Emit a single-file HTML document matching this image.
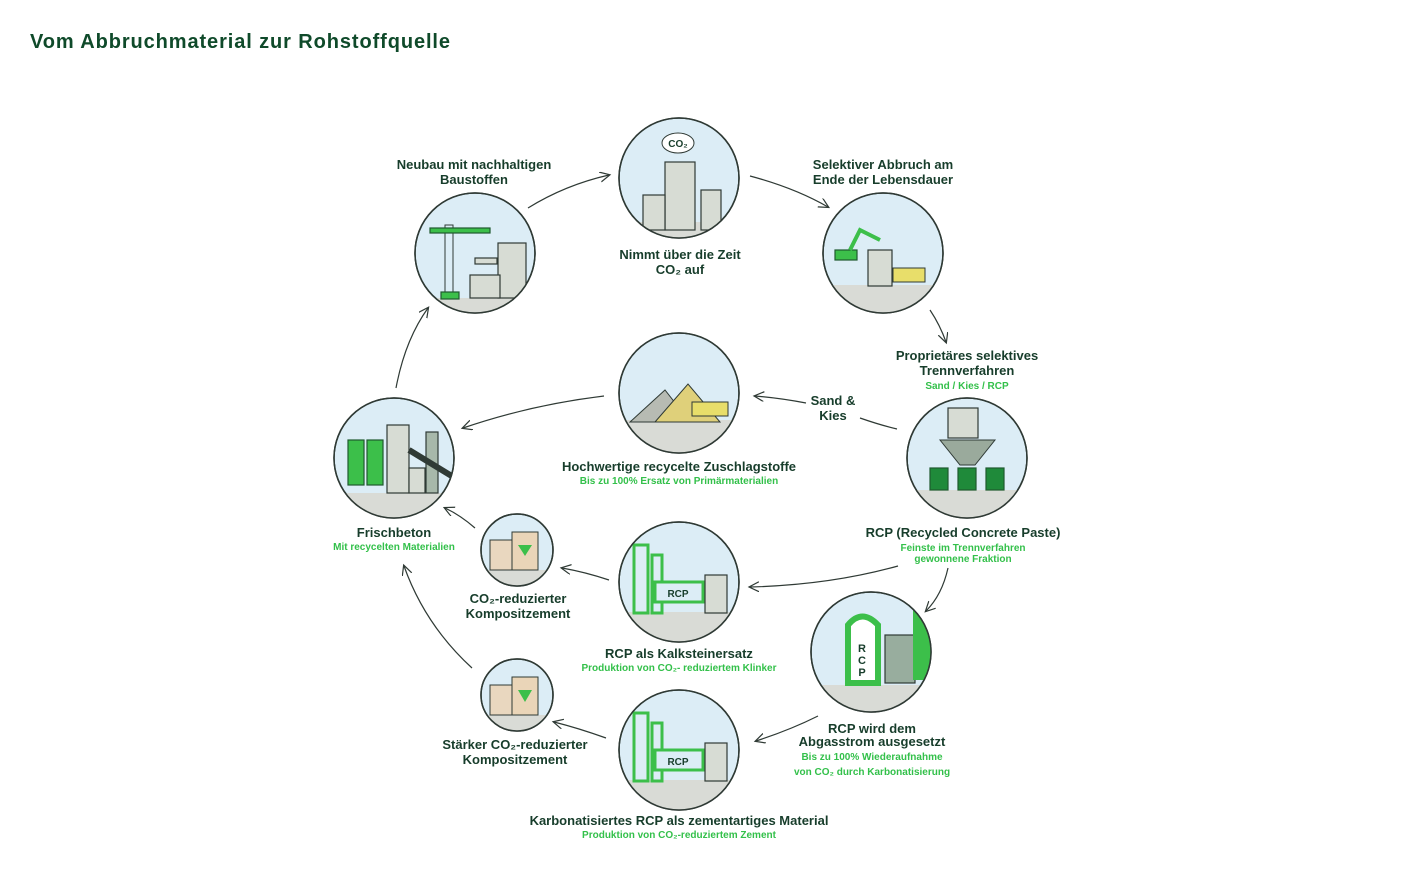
<!DOCTYPE html>
<html><head><meta charset="utf-8"><style>
html,body{margin:0;padding:0;background:#fff;}
svg{display:block;font-family:"Liberation Sans",sans-serif;}
.t{font-weight:bold;font-size:13px;fill:#173d2b;text-anchor:middle;}
.g{font-weight:bold;font-size:10px;fill:#33c04a;text-anchor:middle;}
.a{fill:none;stroke:#2f3a35;stroke-width:1.2;}
.c{fill:#dcedf6;stroke:#2f3a35;stroke-width:1.5;}
.gr{fill:#d9dbd6;}
.b{fill:#d7dcd4;stroke:#2f3a35;stroke-width:1.2;}
.gn{fill:#3cbf4a;stroke:#1f5a2e;stroke-width:1.2;}
</style></head><body>
<svg width="1404" height="889" viewBox="0 0 1404 889">
<defs>
<marker id="m" markerWidth="12" markerHeight="12" refX="9" refY="5" orient="auto" markerUnits="userSpaceOnUse"><path d="M0,0 L10,5 L0,10" fill="none" stroke="#2f3a35" stroke-width="1.2"/></marker>
<clipPath id="c1"><circle cx="475" cy="253" r="60"/></clipPath>
<clipPath id="c2"><circle cx="679" cy="178" r="60"/></clipPath>
<clipPath id="c3"><circle cx="883" cy="253" r="60"/></clipPath>
<clipPath id="c4"><circle cx="967" cy="458" r="60"/></clipPath>
<clipPath id="c5"><circle cx="679" cy="393" r="60"/></clipPath>
<clipPath id="c6"><circle cx="394" cy="458" r="60"/></clipPath>
<clipPath id="c7"><circle cx="517" cy="550" r="36"/></clipPath>
<clipPath id="c8"><circle cx="679" cy="582" r="60"/></clipPath>
<clipPath id="c9"><circle cx="871" cy="652" r="60"/></clipPath>
<clipPath id="c10"><circle cx="517" cy="695" r="36"/></clipPath>
<clipPath id="c11"><circle cx="679" cy="750" r="60"/></clipPath>
</defs>
<text x="30" y="48" style="font-weight:bold;font-size:20px;letter-spacing:0.9px;fill:#0f4a2a">Vom Abbruchmaterial zur Rohstoffquelle</text>

<g>
<circle class="c" cx="475" cy="253" r="60"/>
<g clip-path="url(#c1)"><rect class="gr" x="410" y="298" width="130" height="20"/>
<rect class="b" x="498" y="243" width="28" height="55"/><rect class="b" x="470" y="275" width="30" height="23"/>
<rect x="445" y="225" width="8" height="73" fill="none" stroke="#2f3a35"/><rect class="gn" x="430" y="228" width="60" height="5"/><rect class="gn" x="441" y="292" width="18" height="7"/>
<rect class="b" x="475" y="258" width="22" height="6"/></g>
<circle cx="475" cy="253" r="60" fill="none" stroke="#2f3a35" stroke-width="1.5"/>

<circle class="c" cx="679" cy="178" r="60"/>
<g clip-path="url(#c2)"><rect class="gr" x="610" y="222" width="140" height="20"/>
<rect class="b" x="665" y="162" width="30" height="68"/><rect class="b" x="643" y="195" width="22" height="35"/><rect class="b" x="701" y="190" width="20" height="40"/>
<ellipse cx="678" cy="143" rx="16" ry="10" fill="#fff" stroke="#2f3a35"/></g>
<text x="678" y="147" style="font-size:10px;font-weight:bold;fill:#173d2b;text-anchor:middle">CO₂</text>
<circle cx="679" cy="178" r="60" fill="none" stroke="#2f3a35" stroke-width="1.5"/>

<circle class="c" cx="883" cy="253" r="60"/>
<g clip-path="url(#c3)"><rect class="gr" x="820" y="285" width="130" height="30"/>
<rect class="b" x="868" y="250" width="24" height="36"/><rect class="gn" x="835" y="250" width="22" height="10"/><path d="M850,250 L860,230 L880,240" stroke="#3cbf4a" stroke-width="4" fill="none"/>
<rect x="893" y="268" width="32" height="14" fill="#e8de6a" stroke="#2f3a35"/></g>
<circle cx="883" cy="253" r="60" fill="none" stroke="#2f3a35" stroke-width="1.5"/>

<circle class="c" cx="967" cy="458" r="60"/>
<g clip-path="url(#c4)"><rect class="gr" x="900" y="490" width="130" height="30"/>
<rect class="b" x="948" y="408" width="30" height="30"/><path d="M940,440 L995,440 L975,465 L960,465 Z" fill="#9aaa9c" stroke="#2f3a35"/>
<rect class="gn" x="930" y="468" width="18" height="22" style="fill:#1f8a3a"/><rect class="gn" x="958" y="468" width="18" height="22" style="fill:#1f8a3a"/><rect class="gn" x="986" y="468" width="18" height="22" style="fill:#1f8a3a"/></g>
<circle cx="967" cy="458" r="60" fill="none" stroke="#2f3a35" stroke-width="1.5"/>

<circle class="c" cx="679" cy="393" r="60"/>
<g clip-path="url(#c5)"><rect class="gr" x="610" y="420" width="140" height="40"/>
<path d="M630,422 L665,390 L690,422 Z" fill="#b7bbb3" stroke="#2f3a35"/><path d="M655,422 L688,384 L720,422 Z" fill="#dfd07a" stroke="#2f3a35"/>
<rect x="692" y="402" width="36" height="14" fill="#e8de6a" stroke="#2f3a35"/></g>
<circle cx="679" cy="393" r="60" fill="none" stroke="#2f3a35" stroke-width="1.5"/>

<circle class="c" cx="394" cy="458" r="60"/>
<g clip-path="url(#c6)"><rect class="gr" x="330" y="493" width="130" height="30"/>
<rect class="gn" x="348" y="440" width="16" height="45"/><rect class="gn" x="367" y="440" width="16" height="45"/>
<rect class="b" x="387" y="425" width="22" height="68"/><rect class="b" x="409" y="468" width="16" height="25"/><rect class="b" x="426" y="432" width="12" height="61" style="fill:#a7b8aa"/>
<path d="M409,450 L455,478" stroke="#2f3a35" stroke-width="6"/></g>
<circle cx="394" cy="458" r="60" fill="none" stroke="#2f3a35" stroke-width="1.5"/>

<circle class="c" cx="517" cy="550" r="36"/>
<g clip-path="url(#c7)"><rect class="gr" x="480" y="570" width="80" height="20"/>
<rect x="490" y="540" width="22" height="30" fill="#e9d7bf" stroke="#2f3a35"/><rect x="512" y="532" width="26" height="38" fill="#ead5b8" stroke="#2f3a35"/><path d="M518,545 L532,545 L525,556 Z" fill="#3cbf4a"/></g>
<circle cx="517" cy="550" r="36" fill="none" stroke="#2f3a35" stroke-width="1.5"/>

<circle class="c" cx="679" cy="582" r="60"/>
<g clip-path="url(#c8)"><rect class="gr" x="610" y="612" width="140" height="40"/>
<rect x="634" y="545" width="14" height="68" fill="none" stroke="#3cbf4a" stroke-width="3"/><rect x="652" y="555" width="10" height="58" fill="none" stroke="#3cbf4a" stroke-width="3"/>
<rect x="655" y="582" width="48" height="20" fill="#dcedf6" stroke="#3cbf4a" stroke-width="3"/><rect class="b" x="705" y="575" width="22" height="38"/></g>
<text x="678" y="597" style="font-size:10px;font-weight:bold;fill:#173d2b;text-anchor:middle">RCP</text>
<circle cx="679" cy="582" r="60" fill="none" stroke="#2f3a35" stroke-width="1.5"/>

<circle class="c" cx="871" cy="652" r="60"/>
<g clip-path="url(#c9)"><rect class="gr" x="800" y="685" width="140" height="30"/>
<rect class="b" x="885" y="635" width="30" height="48" style="fill:#98ad9e"/><path d="M848,683 L848,625 Q862,608 878,625 L878,683 Z" fill="#fff" stroke="#3cbf4a" stroke-width="6"/>
<path d="M913,610 L935,620 L935,680 L913,680 Z" fill="#3cbf4a"/></g>
<text x="862" y="652" style="font-size:11px;font-weight:bold;fill:#173d2b;text-anchor:middle">R</text><text x="862" y="664" style="font-size:11px;font-weight:bold;fill:#173d2b;text-anchor:middle">C</text><text x="862" y="676" style="font-size:11px;font-weight:bold;fill:#173d2b;text-anchor:middle">P</text>
<circle cx="871" cy="652" r="60" fill="none" stroke="#2f3a35" stroke-width="1.5"/>

<circle class="c" cx="517" cy="695" r="36"/>
<g clip-path="url(#c10)"><rect class="gr" x="480" y="715" width="80" height="20"/>
<rect x="490" y="685" width="22" height="30" fill="#e9d7bf" stroke="#2f3a35"/><rect x="512" y="677" width="26" height="38" fill="#ead5b8" stroke="#2f3a35"/><path d="M518,690 L532,690 L525,702 Z" fill="#3cbf4a"/></g>
<circle cx="517" cy="695" r="36" fill="none" stroke="#2f3a35" stroke-width="1.5"/>

<circle class="c" cx="679" cy="750" r="60"/>
<g clip-path="url(#c11)"><rect class="gr" x="610" y="780" width="140" height="40"/>
<rect x="634" y="713" width="14" height="68" fill="none" stroke="#3cbf4a" stroke-width="3"/><rect x="652" y="723" width="10" height="58" fill="none" stroke="#3cbf4a" stroke-width="3"/>
<rect x="655" y="750" width="48" height="20" fill="#dcedf6" stroke="#3cbf4a" stroke-width="3"/><rect class="b" x="705" y="743" width="22" height="38"/></g>
<text x="678" y="765" style="font-size:10px;font-weight:bold;fill:#173d2b;text-anchor:middle">RCP</text>
<circle cx="679" cy="750" r="60" fill="none" stroke="#2f3a35" stroke-width="1.5"/>
</g>

<path class="a" marker-end="url(#m)" d="M528,208 Q565,185 609,175"/>
<path class="a" marker-end="url(#m)" d="M750,176 Q795,188 828,207"/>
<path class="a" marker-end="url(#m)" d="M930,310 Q940,325 946,342"/>
<path class="a" d="M860,418 Q880,425 897,429"/>
<path class="a" marker-end="url(#m)" d="M806,403 Q780,398 755,396"/>
<path class="a" marker-end="url(#m)" d="M604,396 Q530,405 463,428"/>
<path class="a" marker-end="url(#m)" d="M396,388 Q405,340 428,308"/>
<path class="a" marker-end="url(#m)" d="M948,568 Q942,595 926,611"/>
<path class="a" marker-end="url(#m)" d="M898,566 Q830,585 750,587"/>
<path class="a" marker-end="url(#m)" d="M609,580 Q585,572 562,568"/>
<path class="a" marker-end="url(#m)" d="M475,528 Q460,515 445,508"/>
<path class="a" marker-end="url(#m)" d="M818,716 Q790,730 756,741"/>
<path class="a" marker-end="url(#m)" d="M606,738 Q578,728 554,722"/>
<path class="a" marker-end="url(#m)" d="M472,668 Q425,625 404,566"/>

<text class="t" x="474" y="169">Neubau mit nachhaltigen</text><text class="t" x="474" y="184">Baustoffen</text>
<text class="t" x="680" y="259">Nimmt über die Zeit</text><text class="t" x="680" y="274">CO₂ auf</text>
<text class="t" x="883" y="169">Selektiver Abbruch am</text><text class="t" x="883" y="184">Ende der Lebensdauer</text>
<text class="t" x="967" y="360">Proprietäres selektives</text><text class="t" x="967" y="375">Trennverfahren</text><text class="g" x="967" y="389">Sand / Kies / RCP</text>
<text class="t" x="833" y="405">Sand &amp;</text><text class="t" x="833" y="420">Kies</text>
<text class="t" x="679" y="471">Hochwertige recycelte Zuschlagstoffe</text><text class="g" x="679" y="484">Bis zu 100% Ersatz von Primärmaterialien</text>
<text class="t" x="394" y="537">Frischbeton</text><text class="g" x="394" y="550">Mit recycelten Materialien</text>
<text class="t" x="963" y="537">RCP (Recycled Concrete Paste)</text><text class="g" x="963" y="551">Feinste im Trennverfahren</text><text class="g" x="963" y="562">gewonnene Fraktion</text>
<text class="t" x="518" y="603">CO₂-reduzierter</text><text class="t" x="518" y="618">Kompositzement</text>
<text class="t" x="679" y="658">RCP als Kalksteinersatz</text><text class="g" x="679" y="671">Produktion von CO₂- reduziertem Klinker</text>
<text class="t" x="872" y="733">RCP wird dem</text><text class="t" x="872" y="746">Abgasstrom ausgesetzt</text><text class="g" x="872" y="760">Bis zu 100% Wiederaufnahme</text><text class="g" x="872" y="775">von CO₂ durch Karbonatisierung</text>
<text class="t" x="515" y="749">Stärker CO₂-reduzierter</text><text class="t" x="515" y="764">Kompositzement</text>
<text class="t" x="679" y="825">Karbonatisiertes RCP als zementartiges Material</text><text class="g" x="679" y="838">Produktion von CO₂-reduziertem Zement</text>
</svg>
</body></html>
